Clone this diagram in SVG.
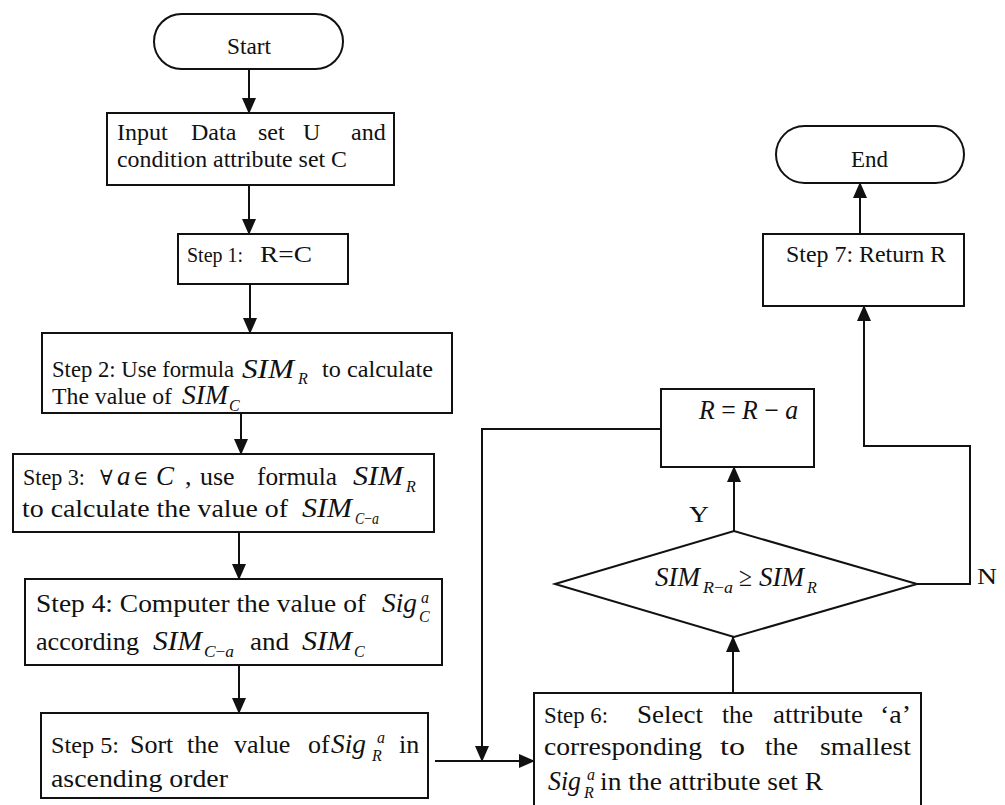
<svg xmlns="http://www.w3.org/2000/svg" width="1005" height="805" viewBox="0 0 1005 805">
  <style>
    text { font-family: "Liberation Serif", "Times New Roman", serif; fill: #111; }
    .tx { font-size: 24px; }
    .md { font-size: 23px; }
    .lg { font-size: 26px; }
    .sm { font-size: 21px; }
    .mi { font-size: 27px; font-style: italic; }
    .mo { font-size: 27px; }
    .sy { font-family: "DejaVu Serif", "Liberation Serif", serif; font-size: 21px; }
    .sb { font-size: 16px; font-style: italic; }
    .box { fill: #fff; stroke: #111; stroke-width: 2; }
    .wire { fill: none; stroke: #111; stroke-width: 2; }
    .arr { marker-end: url(#ah); }
  </style>
  <defs>
    <marker id="ah" markerUnits="userSpaceOnUse" markerWidth="16" markerHeight="14" refX="15" refY="7" orient="auto">
      <path d="M0,0 L16,7 L0,14 Z" fill="#111"/>
    </marker>
  </defs>

  <rect width="1005" height="805" fill="#fff"/>

  <!-- connectors -->
  <g id="connectors">
    <path class="wire arr" d="M249,69 V113"/>
    <path class="wire arr" d="M249,185 V234"/>
    <path class="wire arr" d="M250,284 V333"/>
    <path class="wire arr" d="M241,413 V454"/>
    <path class="wire arr" d="M239,532 V579"/>
    <path class="wire arr" d="M239,665 V713"/>
    <path class="wire arr" d="M435,761 H534"/>
    <path class="wire arr" d="M661,429 H482 V761"/>
    <path class="wire arr" d="M733,693 V637"/>
    <path class="wire arr" d="M734,531 V467"/>
    <path class="wire arr" d="M917,584 H970 V446 H864 V306"/>
    <path class="wire arr" d="M860,234 V183"/>
  </g>

  <!-- Start terminal -->
  <g id="start">
    <rect class="box" x="154" y="14" width="189" height="55" rx="27.5"/>
    <text class="tx" x="227" y="54" textLength="44" lengthAdjust="spacingAndGlyphs">Start</text>
  </g>

  <!-- input -->
  <g id="input">
    <rect class="box" x="107" y="113" width="287" height="72"/>
    <text class="tx" x="117" y="140">Input</text>
    <text class="tx" x="191" y="140">Data</text>
    <text class="tx" x="258" y="140">set</text>
    <text class="tx" x="303" y="140">U</text>
    <text class="tx" x="351" y="140">and</text>
    <text class="tx" x="117" y="167" textLength="230" lengthAdjust="spacingAndGlyphs">condition attribute set C</text>
  </g>

  <!-- step 1 -->
  <g id="step1">
    <rect class="box" x="178" y="234" width="170" height="50"/>
    <text class="sm" x="187" y="262" textLength="56" lengthAdjust="spacingAndGlyphs">Step 1:</text>
    <text class="tx" x="260" y="262" textLength="52" lengthAdjust="spacingAndGlyphs">R=C</text>
  </g>

  <!-- step 2 -->
  <g id="step2">
    <rect class="box" x="42" y="333" width="410" height="80"/>
    <text class="md" x="52" y="377" textLength="182" lengthAdjust="spacingAndGlyphs">Step 2: Use formula</text>
    <text class="mi" x="242" y="378" textLength="52" lengthAdjust="spacingAndGlyphs">SIM</text>
    <text class="sb" x="298" y="384">R</text>
    <text class="md" x="322" y="377" textLength="111" lengthAdjust="spacingAndGlyphs">to calculate</text>
    <text class="md" x="52" y="404" textLength="120" lengthAdjust="spacingAndGlyphs">The value of</text>
    <text class="mi" x="182" y="404" textLength="46" lengthAdjust="spacingAndGlyphs">SIM</text>
    <text class="sb" x="229" y="411">C</text>
  </g>

  <!-- step 3 -->
  <g id="step3">
    <rect class="box" x="13" y="454" width="421" height="78"/>
    <text class="tx" x="23" y="485" textLength="62" lengthAdjust="spacingAndGlyphs">Step 3:</text>
    <text class="sy" x="100" y="485">∀</text>
    <text class="mi" x="117" y="485">a</text>
    <text class="sy" x="133" y="485">∈</text>
    <text class="mi" x="156" y="485">C</text>
    <text class="lg" x="185" y="485">,</text>
    <text class="lg" x="200" y="485">use</text>
    <text class="lg" x="257" y="485" textLength="80" lengthAdjust="spacingAndGlyphs">formula</text>
    <text class="mi" x="353" y="485" textLength="50" lengthAdjust="spacingAndGlyphs">SIM</text>
    <text class="sb" x="406" y="492">R</text>
    <text class="lg" x="22" y="517" textLength="266" lengthAdjust="spacingAndGlyphs">to calculate the value of</text>
    <text class="mi" x="302" y="517" textLength="50" lengthAdjust="spacingAndGlyphs">SIM</text>
    <text class="sb" x="355" y="524" textLength="24" lengthAdjust="spacingAndGlyphs">C<tspan font-style="normal">−</tspan>a</text>
  </g>

  <!-- step 4 -->
  <g id="step4">
    <rect class="box" x="25" y="579" width="417" height="86"/>
    <text class="lg" x="36" y="612" textLength="330" lengthAdjust="spacingAndGlyphs">Step 4: Computer the value of</text>
    <text class="mi" x="382" y="612" textLength="35" lengthAdjust="spacingAndGlyphs">Sig</text>
    <text class="sb" x="421" y="603">a</text>
    <text class="sb" x="419" y="622">C</text>
    <text class="lg" x="36" y="650" textLength="103" lengthAdjust="spacingAndGlyphs">according</text>
    <text class="mi" x="153" y="650" textLength="49" lengthAdjust="spacingAndGlyphs">SIM</text>
    <text class="sb" x="204" y="657" textLength="30" lengthAdjust="spacingAndGlyphs">C<tspan font-style="normal">−</tspan>a</text>
    <text class="lg" x="250" y="650" textLength="39" lengthAdjust="spacingAndGlyphs">and</text>
    <text class="mi" x="302" y="650" textLength="50" lengthAdjust="spacingAndGlyphs">SIM</text>
    <text class="sb" x="354" y="657">C</text>
  </g>

  <!-- step 5 -->
  <g id="step5">
    <rect class="box" x="41" y="713" width="387" height="85"/>
    <text class="tx" x="51" y="753" textLength="68" lengthAdjust="spacingAndGlyphs">Step 5:</text>
    <text class="lg" x="130" y="753">Sort</text>
    <text class="lg" x="187" y="753">the</text>
    <text class="lg" x="234" y="753">value</text>
    <text class="lg" x="308" y="753">of</text>
    <text class="mi" x="331" y="753" textLength="35" lengthAdjust="spacingAndGlyphs">Sig</text>
    <text class="sb" x="377" y="743">a</text>
    <text class="sb" x="372" y="761">R</text>
    <text class="lg" x="399" y="753">in</text>
    <text class="lg" x="51" y="787" textLength="177" lengthAdjust="spacingAndGlyphs">ascending order</text>
  </g>

  <!-- step 6 -->
  <g id="step6">
    <rect class="box" x="534" y="693" width="387" height="120"/>
    <text class="tx" x="544" y="723" textLength="64" lengthAdjust="spacingAndGlyphs">Step 6:</text>
    <text class="lg" x="637" y="723" textLength="66" lengthAdjust="spacingAndGlyphs">Select</text>
    <text class="lg" x="722" y="723" textLength="31" lengthAdjust="spacingAndGlyphs">the</text>
    <text class="lg" x="773" y="723" textLength="90" lengthAdjust="spacingAndGlyphs">attribute</text>
    <text class="lg" x="880" y="723" textLength="31" lengthAdjust="spacingAndGlyphs">‘a’</text>
    <text class="lg" x="544" y="755" textLength="158" lengthAdjust="spacingAndGlyphs">corresponding</text>
    <text class="lg" x="720" y="755" textLength="25" lengthAdjust="spacingAndGlyphs">to</text>
    <text class="lg" x="765" y="755" textLength="33" lengthAdjust="spacingAndGlyphs">the</text>
    <text class="lg" x="820" y="755" textLength="91" lengthAdjust="spacingAndGlyphs">smallest</text>
    <text class="mi" x="548" y="790" textLength="33" lengthAdjust="spacingAndGlyphs">Sig</text>
    <text class="sb" x="587" y="780">a</text>
    <text class="sb" x="584" y="798">R</text>
    <text class="lg" x="600" y="790" textLength="223" lengthAdjust="spacingAndGlyphs">in the attribute set R</text>
  </g>

  <!-- decision -->
  <g id="decision">
    <polygon class="box" points="555,584 734,531 917,584 734,637"/>
    <text class="mi" x="655" y="586" textLength="45" lengthAdjust="spacingAndGlyphs">SIM</text>
    <text class="sb" x="703" y="593" textLength="30" lengthAdjust="spacingAndGlyphs">R<tspan font-style="normal">−</tspan>a</text>
    <text class="mo" x="739" y="586" textLength="13" lengthAdjust="spacingAndGlyphs">≥</text>
    <text class="mi" x="759" y="586" textLength="45" lengthAdjust="spacingAndGlyphs">SIM</text>
    <text class="sb" x="807" y="593">R</text>
    <text class="tx" x="689" y="522" textLength="20" lengthAdjust="spacingAndGlyphs">Y</text>
    <text class="tx" x="977" y="584" textLength="20" lengthAdjust="spacingAndGlyphs">N</text>
  </g>

  <!-- update R -->
  <g id="update">
    <rect class="box" x="661" y="389" width="153" height="78"/>
    <text class="mo" x="699" y="419" textLength="99" lengthAdjust="spacingAndGlyphs"><tspan font-style="italic">R</tspan> = <tspan font-style="italic">R</tspan> − <tspan font-style="italic">a</tspan></text>
  </g>

  <!-- step 7 -->
  <g id="step7">
    <rect class="box" x="763" y="234" width="201" height="72"/>
    <text class="tx" x="786" y="262" textLength="160" lengthAdjust="spacingAndGlyphs">Step 7: Return R</text>
  </g>

  <!-- End terminal -->
  <g id="end">
    <rect class="box" x="776" y="126" width="188" height="57" rx="28.5"/>
    <text class="tx" x="851" y="167" textLength="37" lengthAdjust="spacingAndGlyphs">End</text>
  </g>
</svg>
